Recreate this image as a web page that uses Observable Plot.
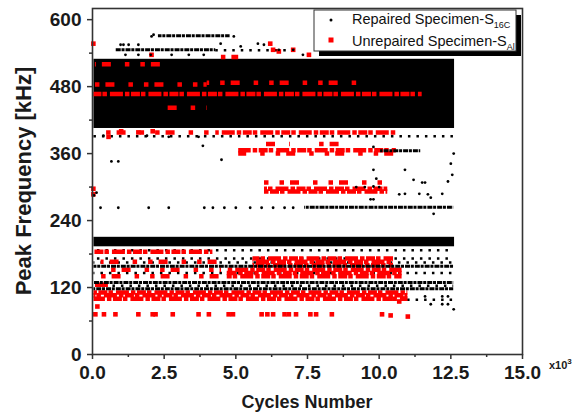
<!DOCTYPE html>
<html><head><meta charset="utf-8">
<script src="https://cdn.jsdelivr.net/npm/d3@7"></script>
<script src="https://cdn.jsdelivr.net/npm/@observablehq/plot@0.6"></script>
<style>body{margin:0;background:#fff}</style>
</head><body><div id="chart"></div>
<script>
// ---- data (x in 10^3 cycles, y in kHz) ----
const seriesNames = ["Repaired Specimen-S", "Unrepaired Specimen-S"];
const seriesSubs = ["16C", "Al"];
const xTicks = [0, 2.5, 5, 7.5, 10, 12.5, 15];
const xMinor = [1.25, 3.75, 6.25, 8.75, 11.25, 13.75];
const yTicks = [0, 120, 240, 360, 480, 600];
const yMinor = [60, 180, 300, 420, 540];

// repaired (black) dense regions [x1, x2, f1, f2]
const repairedBlocks = [
  [0.05, 12.63, 405, 529],
  [0.05, 12.63, 193, 210]
];
// repaired continuous runs [x1, x2, f]
const repairedRuns = [
  [2.3, 4.8, 571], [0.8, 4.3, 546], [10.05, 11.45, 365], [7.4, 12.6, 264],
  [0.05, 12.6, 158], [0.05, 12.6, 129], [0.05, 12.6, 118]
];
// repaired sparse runs [x1, x2, f]
const repairedSparse = [
  [4.3, 7.2, 545], [0.05, 12.6, 391], [0.05, 12.6, 187], [0.05, 12.6, 172],
  [0.05, 12.6, 165], [0.05, 12.6, 146], [0.05, 12.6, 123], [10.8, 12.6, 98]
];
// repaired isolated points [x, f]
const repairedPoints = [
  [2.06, 570], [2.13, 573], [0.98, 555], [1.08, 555], [1.26, 555], [1.6, 555],
  [1.15, 537], [1.6, 537], [2.03, 537], [2.76, 537], [3.36, 537], [3.88, 537],
  [4.47, 557], [5.17, 552], [5.77, 557], [5.98, 555], [6.5, 546], [7.0, 546], [7.34, 537], [4.93, 570],
  [0.66, 346], [0.9, 346], [0.38, 392], [1.9, 392], [2.66, 390], [3.7, 390], [3.85, 374],
  [0.28, 263], [0.9, 263], [1.96, 263], [2.66, 263], [3.9, 263], [4.2, 263], [4.6, 263],
  [5.0, 263], [5.5, 263], [5.9, 263], [6.3, 263], [6.7, 263], [7.0, 263],
  [0.14, 290], [0.05, 285], [4.5, 349],
  [12.5, 342], [12.6, 360], [12.55, 322], [10.9, 331], [11.2, 313], [11.5, 308], [11.6, 308],
  [9.8, 331], [9.9, 315], [10.7, 287], [10.9, 288], [11.4, 288], [11.7, 287], [11.8, 281],
  [12.2, 288], [12.4, 310], [11.9, 252], [9.7, 278], [9.8, 278], [9.8, 301], [9.8, 372],
  [9.2, 300], [9.5, 300], [10.0, 300],
  [11.8, 90], [12.2, 90], [12.4, 90], [12.6, 81], [12.2, 104], [12.4, 104], [11.6, 104]
];

// unrepaired (red) continuous runs [x1, x2, f]
const unrepairedRuns = [
  [0.05, 11.5, 467], [5.1, 10.6, 366], [6.0, 10.3, 297],
  [6.0, 10.3, 292], [4.3, 10.6, 398], [0.05, 4.2, 184], [0.05, 0.6, 125],
  [4.7, 10.8, 140], [4.7, 10.8, 146], [4.7, 10.8, 152], [5.6, 10.5, 160], [5.6, 10.5, 166],
  [5.6, 10.5, 172], [0.05, 11.0, 100], [0.05, 11.0, 106], [0.05, 11.0, 111]
];
// unrepaired sparse runs [x1, x2, f]
const unrepairedSparse = [
  [0.05, 4.0, 484], [4.0, 9.5, 487], [0.1, 2.5, 520], [4.2, 5.1, 533], [6.0, 6.9, 377], [7.8, 8.9, 377],
  [6.0, 10.3, 308], [0.3, 4.5, 166], [0.3, 4.5, 152], [2.5, 4.0, 442], [0.3, 4.2, 398],
  [5.1, 10.6, 360], [0.3, 4.7, 140]
];
// unrepaired isolated points [x, f]
const unrepairedPoints = [
  [0.03, 557], [0.03, 297], [0.03, 287], [0.56, 390], [1.0, 400], [1.6, 398], [2.1, 400],
  [6.3, 546], [7.0, 546], [7.55, 537], [8.0, 539], [6.2, 557], [6.5, 543], [2.06, 537],
  [0.1, 72], [0.4, 72], [0.8, 72], [1.6, 72], [2.1, 72], [2.2, 72], [2.8, 72], [3.7, 72],
  [4.06, 72], [4.75, 72], [4.9, 72], [5.9, 72], [6.1, 72], [6.3, 72], [6.7, 72], [6.85, 72],
  [7.1, 72], [7.6, 72], [7.8, 72], [8.35, 72], [10.1, 72], [10.4, 70], [11.0, 68],
  [0.17, 86], [10.4, 100], [10.7, 95], [10.9, 100]
];

const BLACK = "#000", RED = "#ff0000";

const plot = Plot.plot({
  width: 575, height: 413,
  marginLeft: 92, marginRight: 53, marginTop: 8, marginBottom: 59,
  x: {domain: [0, 15]},
  y: {domain: [0, 620]},
  style: {fontFamily: "'Liberation Sans', Arial, sans-serif", fontSize: "19px", fontWeight: "bold", color: "#1a1a1a", background: "#fff", overflow: "visible"},
  marks: [
    Plot.rect(repairedBlocks, {x1: d => d[0], x2: d => d[1], y1: d => d[2], y2: d => d[3], fill: BLACK}),
    Plot.ruleY(repairedSparse, {x1: d => d[0], x2: d => d[1], y: d => d[2], stroke: BLACK, strokeWidth: 2.5, strokeDasharray: "2.5,6"}),
    Plot.ruleY(unrepairedRuns, {x1: d => d[0], x2: d => d[1], y: d => d[2], stroke: RED, strokeWidth: 4.5, strokeDasharray: "4.5,1.5,9,1,4.5,3,13,2"}),
    Plot.ruleY(unrepairedSparse, {x1: d => d[0], x2: d => d[1], y: d => d[2], stroke: RED, strokeWidth: 4.5, strokeDasharray: "4.5,11,4.5,6,9,14"}),
    Plot.dot(unrepairedPoints, {x: d => d[0], y: d => d[1], symbol: "square", r: 2.6, fill: RED}),
    Plot.ruleY(repairedRuns, {x1: d => d[0], x2: d => d[1], y: d => d[2], stroke: BLACK, strokeWidth: 3, strokeDasharray: "5,0.8,3,1"}),
    Plot.dot(repairedPoints, {x: d => d[0], y: d => d[1], r: 1.4, fill: BLACK}),
    Plot.axisY(yMinor, {tickSize: 3, tickFormat: () => "", stroke: "#333", strokeWidth: 1.5}),
    Plot.axisY(yTicks, {tickSize: 5, tickPadding: 6, label: null, stroke: "#333", strokeWidth: 1.5}),
    Plot.axisX(xMinor, {tickSize: 3, tickFormat: () => "", stroke: "#333", strokeWidth: 1.5}),
    Plot.axisX(xTicks, {tickSize: 5, tickPadding: 6, tickFormat: d => d.toFixed(1), label: null, stroke: "#333", strokeWidth: 1.5}),
    Plot.frame({stroke: "#333", strokeWidth: 1.6})
  ]
});
document.getElementById("chart").appendChild(plot);

const svg = d3.select(plot);
// stagger dash phases per row so runs don't line up into vertical stripes
svg.selectAll("g[aria-label='rule']").each(function(_, gi) {
  d3.select(this).selectAll("line").attr("stroke-dashoffset", (d, i) => ((i * 17 + gi * 7) % 29));
});
const font = "'Liberation Sans', Arial, sans-serif";
// axis titles
svg.append("text").attr("transform", "translate(31,181) rotate(-90)")
  .attr("text-anchor", "middle").attr("font-size", 22).attr("font-weight", "bold")
  .attr("font-family", font).attr("fill", "#1a1a1a").text("Peak Frequency [kHz]");
svg.append("text").attr("x", 307).attr("y", 408)
  .attr("text-anchor", "middle").attr("font-size", 18).attr("font-weight", "bold")
  .attr("font-family", font).attr("fill", "#1a1a1a").text("Cycles Number");
const mult = svg.append("text").attr("x", 549).attr("y", 369).attr("text-anchor", "start")
  .attr("font-size", 11).attr("font-weight", "bold").attr("font-family", font).attr("fill", "#1a1a1a");
mult.append("tspan").text("x10");
mult.append("tspan").attr("dy", -5).attr("font-size", 8).text("3");

// legend
const lg = svg.append("g").attr("font-family", font).attr("text-anchor", "start");
lg.append("rect").attr("x", 319).attr("y", 15).attr("width", 202).attr("height", 41).attr("fill", "#000");
lg.append("rect").attr("x", 314).attr("y", 10).attr("width", 202).attr("height", 41)
  .attr("fill", "#fff").attr("stroke", "#333").attr("stroke-width", 1);
const ly = [24, 46];
lg.append("circle").attr("cx", 331).attr("cy", 20).attr("r", 1.5).attr("fill", BLACK);
lg.append("rect").attr("x", 328.5).attr("y", 37.5).attr("width", 5).attr("height", 5).attr("fill", RED);
seriesNames.forEach((n, i) => {
  const t = lg.append("text").attr("x", 352).attr("y", ly[i]).attr("font-size", 14.5)
    .attr("font-weight", "normal").attr("fill", "#111").attr("text-anchor", "start");
  t.append("tspan").text(n);
  t.append("tspan").attr("dy", 4).attr("font-size", 9).text(seriesSubs[i]);
});
</script>
</body></html>
